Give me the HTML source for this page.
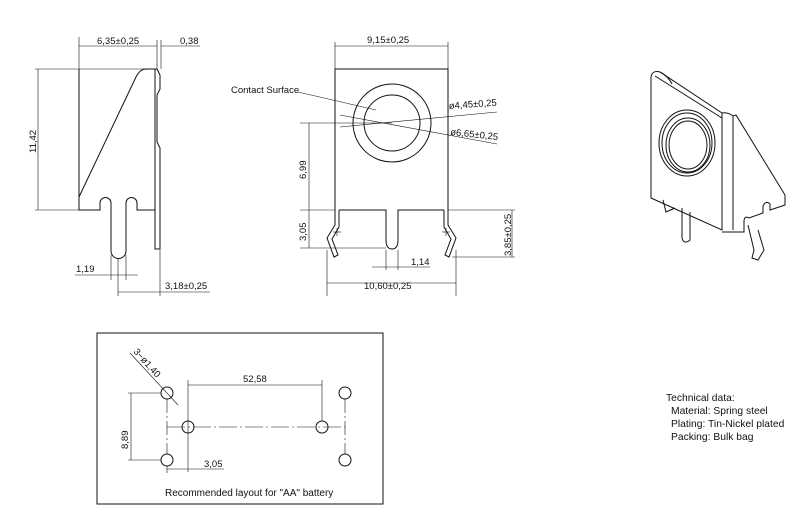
<!DOCTYPE html>
<html><head><meta charset="utf-8"><style>
html,body{margin:0;padding:0;background:#fff;}
svg{display:block;}
text{font-family:"Liberation Sans",sans-serif;fill:#111;}
</style></head><body>
<svg width="800" height="511" viewBox="0 0 800 511" xmlns="http://www.w3.org/2000/svg">
<g fill="none" stroke="#111" stroke-width="1">
<!-- LEFT VIEW -->
<path d="M79,69 V210 H100 V203 a5.5,5.5 0 0 1 11,0 V251 a7.5,7.5 0 0 0 15,0 V203 a5.5,5.5 0 0 1 11,0 V210 H155"/>
<path d="M79,197 L136,77 Q140,69 146,69 H157"/>
<path d="M155,69 V249 H160 V148 L157,142 V95 L160,89 V75 L157,69"/>
<line x1="155" y1="69" x2="157" y2="69"/>
<line x1="155" y1="88" x2="155" y2="159"/>
<line x1="79" y1="37" x2="79" y2="69" stroke-width="0.6"/>
<line x1="157" y1="40" x2="157" y2="69" stroke-width="0.6"/>
<line x1="161" y1="40" x2="161" y2="69" stroke-width="0.6"/>
<line x1="79" y1="46" x2="157" y2="46" stroke-width="0.6"/>
<line x1="161" y1="46" x2="200" y2="46" stroke-width="0.6"/>
<line x1="35" y1="69" x2="150" y2="69" stroke-width="0.6"/>
<line x1="35" y1="210" x2="79" y2="210" stroke-width="0.6"/>
<line x1="38" y1="69" x2="38" y2="210" stroke-width="0.6"/>
<line x1="75" y1="275" x2="138" y2="275" stroke-width="0.6"/>
<line x1="111" y1="255" x2="111" y2="280" stroke-width="0.6"/>
<line x1="126" y1="255" x2="126" y2="280" stroke-width="0.6"/>
<line x1="118" y1="258" x2="118" y2="296" stroke-width="0.6"/>
<line x1="160" y1="250" x2="160" y2="296" stroke-width="0.6"/>
<line x1="118" y1="292" x2="210" y2="292" stroke-width="0.6"/>
<!-- FRONT VIEW -->
<path d="M335,210 V69 H448 V210"/>
<path d="M339,210 H386 V240 Q386,249 392,249 Q398,249 398,240 V210 H444"/>
<circle cx="392" cy="123" r="39"/>
<circle cx="392" cy="123" r="28"/>
<path d="M335,210 V225 L327,238 L334,257 L338,255 L332,239 L339,227 V210"/>
<path d="M448,210 V225 L456,238 L449,257 L445,255 L451,239 L444,227 V210"/>
<line x1="333" y1="232" x2="341" y2="232" stroke-width="0.6"/><line x1="337" y1="228" x2="337" y2="236" stroke-width="0.6"/>
<line x1="442" y1="232" x2="450" y2="232" stroke-width="0.6"/><line x1="446" y1="228" x2="446" y2="236" stroke-width="0.6"/>
<line x1="335" y1="42" x2="335" y2="69" stroke-width="0.6"/>
<line x1="448" y1="42" x2="448" y2="69" stroke-width="0.6"/>
<line x1="335" y1="46" x2="448" y2="46" stroke-width="0.6"/>
<line x1="300" y1="123" x2="392" y2="123" stroke-width="0.6"/>
<line x1="300" y1="210" x2="335" y2="210" stroke-width="0.6"/>
<line x1="448" y1="210" x2="515" y2="210" stroke-width="0.6"/>
<line x1="300" y1="248" x2="386" y2="248" stroke-width="0.6"/>
<line x1="309" y1="123" x2="309" y2="248" stroke-width="0.6"/>
<line x1="452" y1="257" x2="515" y2="257" stroke-width="0.6"/>
<line x1="512" y1="210" x2="512" y2="257" stroke-width="0.6"/>
<line x1="386" y1="250" x2="386" y2="270" stroke-width="0.6"/>
<line x1="398" y1="250" x2="398" y2="270" stroke-width="0.6"/>
<line x1="372" y1="267" x2="430" y2="267" stroke-width="0.6"/>
<line x1="327" y1="250" x2="327" y2="296" stroke-width="0.6"/>
<line x1="456" y1="250" x2="456" y2="296" stroke-width="0.6"/>
<line x1="327" y1="283" x2="456" y2="283" stroke-width="0.6"/>
<line x1="298" y1="92" x2="376" y2="110" stroke-width="0.6"/>
<line x1="340" y1="115" x2="497" y2="144" stroke-width="0.6"/>
<line x1="340" y1="127" x2="497" y2="112" stroke-width="0.6"/>
<!-- ISO VIEW -->
<path d="M651,77 Q652,70 660,72 L722,113 L722,230 L651,198 Z"/>
<path d="M655,76 L722,118"/>
<path d="M660,72 Q668,76 672,84"/>
<path d="M722,113 Q728,112 733,116 L736,115 L785,195 V205 L770,210 V204 Q766,200 763,206 V213 L749,218 Q744,215 744,222 V232 L722,232"/>
<path d="M733,116 V230"/>
<ellipse cx="687" cy="143" rx="28" ry="33"/>
<ellipse cx="687" cy="143" rx="25" ry="30"/>
<ellipse cx="688" cy="145" rx="22" ry="27"/>
<ellipse cx="688" cy="145" rx="19" ry="24"/>
<path d="M682,208 V238 Q684,245 690,240 V212"/>
<path d="M663,200 L666,212 L675,208"/>
<path d="M748,225 L754,250 L752,258 L758,260 L764,250 L758,230"/>
<!-- BOTTOM BOX -->
<rect x="97" y="333" width="286" height="171"/>
<circle cx="167" cy="393" r="6"/><circle cx="167" cy="460" r="6"/>
<circle cx="188" cy="427" r="6"/><circle cx="322" cy="427" r="6"/>
<circle cx="345" cy="393" r="6"/><circle cx="345" cy="460" r="6"/>
<line x1="167" y1="399" x2="167" y2="454" stroke-width="0.6" stroke-dasharray="14,3,2,3"/>
<line x1="345" y1="399" x2="345" y2="454" stroke-width="0.6" stroke-dasharray="14,3,2,3"/>
<line x1="167" y1="427" x2="345" y2="427" stroke-width="0.6" stroke-dasharray="18,3,2,3"/>
<line x1="188" y1="380" x2="188" y2="472" stroke-width="0.6"/>
<line x1="322" y1="380" x2="322" y2="421" stroke-width="0.6"/>
<line x1="188" y1="385" x2="322" y2="385" stroke-width="0.6"/>
<line x1="128" y1="393" x2="161" y2="393" stroke-width="0.6"/>
<line x1="128" y1="460" x2="161" y2="460" stroke-width="0.6"/>
<line x1="131" y1="393" x2="131" y2="460" stroke-width="0.6"/>
<line x1="167" y1="466" x2="167" y2="473" stroke-width="0.6"/>
<line x1="167" y1="469" x2="224" y2="469" stroke-width="0.6"/>
<line x1="130" y1="353" x2="178" y2="405" stroke-width="0.6"/>
</g>
<g font-size="9.5">
<text x="97" y="44">6,35±0,25</text>
<text x="180" y="44">0,38</text>
<text transform="translate(36,153) rotate(-90)">11,42</text>
<text x="76" y="272">1,19</text>
<text x="165" y="289">3,18±0,25</text>
<text x="367" y="43">9,15±0,25</text>
<text x="231" y="93">Contact Surface</text>
<text x="449" y="109" transform="rotate(-4 449 109)">ø4,45±0,25</text>
<text x="450" y="135" transform="rotate(6 450 135)">ø6,65±0,25</text>
<text transform="translate(306,179) rotate(-90)">6,99</text>
<text transform="translate(306,241) rotate(-90)">3,05</text>
<text transform="translate(511,256) rotate(-90)">3,85±0,25</text>
<text x="411" y="265">1,14</text>
<text x="364" y="289">10,60±0,25</text>
<text x="243" y="382">52,58</text>
<text transform="translate(128,449) rotate(-90)">8,89</text>
<text x="204" y="467">3,05</text>
<text transform="translate(133,352) rotate(48)">3−ø1,40</text>
<text x="165" y="496" font-size="10">Recommended layout for "AA" battery</text>
</g>
<g font-size="10.3">
<text x="666" y="401">Technical data:</text>
<text x="671" y="414">Material: Spring steel</text>
<text x="671" y="427">Plating: Tin-Nickel plated</text>
<text x="671" y="440">Packing: Bulk bag</text>
</g>
</svg>
</body></html>
